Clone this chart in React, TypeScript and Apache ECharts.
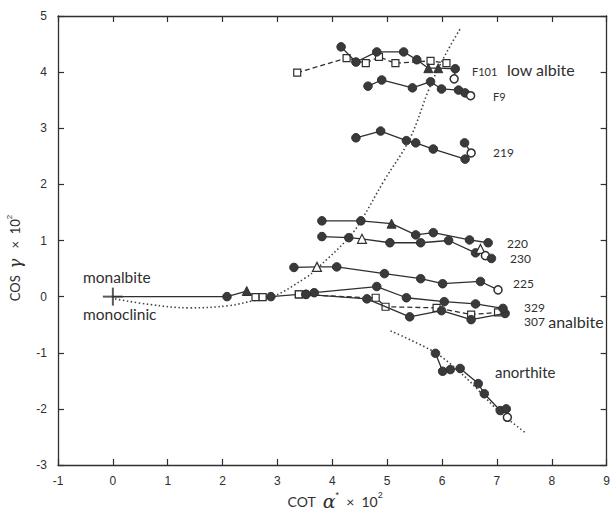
import React, { useEffect, useRef } from 'react';
import * as echarts from 'echarts';

type Pt = [number, number, string];

// kinds: d = filled dot, s = open square, t = filled triangle, T = open triangle, o = open circle, '' = none
const monoLine: Pt[] = [[0, 0, ''], [2.08, 0, 'd'], [2.44, 0.1, 't'], [2.6, -0.01, 's'], [2.73, -0.01, 's'], [2.88, 0, 'd'], [3.39, 0.04, 's']];
const s307dash: Pt[] = [[3.39, 0.04, 's'], [4.63, -0.02, ''], [4.79, -0.02, 's'], [4.97, -0.18, 's'], [5.9, -0.2, 's'], [6.53, -0.32, 's'], [7.02, -0.28, 's']];
const s307: Pt[] = [[3.52, 0.04, 'd'], [4.63, -0.04, 'd'], [5.41, -0.36, 'd'], [5.99, -0.25, 'd'], [6.53, -0.41, 'd'], [7.15, -0.3, 'd']];
const s329: Pt[] = [[3.52, 0.04, 'd'], [3.67, 0.07, 'd'], [4.81, 0.18, 'd'], [5.35, -0.02, 'd'], [6.04, -0.09, 'd'], [6.61, -0.13, 'd'], [7.11, -0.21, 'd']];
const s225: Pt[] = [[3.3, 0.52, 'd'], [3.72, 0.53, 'T'], [4.08, 0.53, 'd'], [4.95, 0.41, 'd'], [5.61, 0.32, 'd'], [6.01, 0.23, 'd'], [6.7, 0.27, 'd'], [7.02, 0.12, 'o']];
const s230: Pt[] = [[3.81, 1.07, 'd'], [4.3, 1.05, 'd'], [4.54, 1.03, 'T'], [5.05, 0.96, 'd'], [5.61, 0.96, 'd'], [6.12, 1.0, 'd'], [6.61, 0.78, 'd'], [6.7, 0.85, 'T'], [6.79, 0.73, 'o'], [6.9, 0.68, 'd']];
const s220: Pt[] = [[3.81, 1.35, 'd'], [4.52, 1.35, 'd'], [5.08, 1.3, 't'], [5.52, 1.1, 'd'], [5.84, 1.14, 'd'], [6.5, 1.01, 'd'], [6.84, 0.96, 'd']];
const s219: Pt[] = [[4.43, 2.83, 'd'], [4.88, 2.95, 'd'], [5.35, 2.78, 'd'], [5.52, 2.74, 'd'], [5.84, 2.63, 'd'], [6.42, 2.45, 'd'], [6.53, 2.56, 'o'], [6.41, 2.74, 'd']];
const sF9: Pt[] = [[4.65, 3.75, 'd'], [4.9, 3.86, 'd'], [5.46, 3.72, 'd'], [5.79, 3.83, 'd'], [5.99, 3.7, 'd'], [6.3, 3.68, 'd'], [6.42, 3.63, 'd'], [6.52, 3.58, 'o']];
const sF101: Pt[] = [[4.16, 4.45, 'd'], [4.43, 4.18, 'd'], [4.81, 4.36, 'd'], [5.3, 4.36, 'd'], [5.54, 4.22, 'd'], [5.75, 4.07, 't'], [5.93, 4.07, 't'], [6.24, 4.06, 'd'], [6.22, 3.88, 'o']];
const sF101dash: Pt[] = [[3.36, 3.99, 's'], [4.26, 4.25, 's'], [4.61, 4.16, 's'], [4.85, 4.27, 's'], [5.15, 4.16, 's'], [5.79, 4.2, 's'], [6.08, 4.16, 's']];
const anorthite: Pt[] = [[5.88, -1.01, 'd'], [6.01, -1.33, 'd'], [6.15, -1.3, 'd'], [6.33, -1.28, 'd'], [6.66, -1.55, 'd'], [6.77, -1.73, 'd'], [7.06, -2.03, 'd'], [7.17, -2.0, 'd'], [7.19, -2.15, 'o']];

const anorthiteTrend: [number, number][] = [[5.06, -0.61], [5.88, -1.0], [6.42, -1.43], [7.02, -2.03], [7.51, -2.42]];
const orderCurve: [number, number][] = [
  [0.04, -0.04], [0.67, -0.14], [1.4, -0.2], [2.12, -0.16], [2.58, -0.07], [2.88, -0.02], [3.52, 0.34],
  [3.72, 0.5], [4.3, 1.05], [4.52, 1.35], [4.94, 2.06], [5.41, 2.81], [5.75, 3.67], [5.93, 4.06], [6.15, 4.47], [6.33, 4.77],
];

const INK = '#2f2f2f';

function item(p: Pt) {
  const k = p[2];
  const base: any = { value: [p[0], p[1]] };
  if (k === '') {
    base.symbol = 'none';
  } else if (k === 'd') {
    base.symbol = 'circle'; base.symbolSize = 8.5;
    base.itemStyle = { color: '#3a3a3a', borderColor: INK, borderWidth: 1 };
  } else if (k === 's') {
    base.symbol = 'rect'; base.symbolSize = 7;
    base.itemStyle = { color: '#fff', borderColor: INK, borderWidth: 1.2 };
  } else if (k === 'o') {
    base.symbol = 'circle'; base.symbolSize = 8;
    base.itemStyle = { color: '#fff', borderColor: INK, borderWidth: 1.5 };
  } else if (k === 't') {
    base.symbol = 'triangle'; base.symbolSize = 9;
    base.itemStyle = { color: '#3a3a3a', borderColor: INK, borderWidth: 1 };
  } else if (k === 'T') {
    base.symbol = 'triangle'; base.symbolSize = 9;
    base.itemStyle = { color: '#fff', borderColor: INK, borderWidth: 1.2 };
  }
  return base;
}

function lineSeries(pts: Pt[], dashed = false) {
  return {
    type: 'line',
    data: pts.map(item),
    showAllSymbol: true,
    lineStyle: { color: INK, width: 1.3, type: dashed ? [5, 3] : 'solid' },
    z: dashed ? 3 : 4,
    silent: true,
  };
}

const txt = (x: number, y: number, text: string, size: number) => ({
  type: 'text', x, y,
  style: { text, fill: INK, font: `${size}px Lato, "Noto Sans", sans-serif`, textVerticalAlign: 'middle' },
});

export default function App() {
  const ref = useRef<HTMLDivElement>(null);
  useEffect(() => {
    document.body.style.margin = '0';
    const chart = echarts.init(ref.current!, undefined, { renderer: 'svg' });
    const axisCommon = {
      min: -1, max: 9, interval: 1,
      axisLine: { show: true, onZero: false, lineStyle: { color: INK, width: 1.3 } },
      axisTick: { show: true, inside: true, length: 6, lineStyle: { color: INK, width: 1.2 } },
      splitLine: { show: false },
    };
    const yCommon = { ...axisCommon, min: -3, max: 5 };
    const labelStyle = { color: INK, fontSize: 12, fontFamily: '"Liberation Sans", Arial, sans-serif' };
    chart.setOption({
      animation: false,
      backgroundColor: '#fff',
      grid: { left: 58, right: 4, top: 16, bottom: 50 },
      xAxis: [
        { type: 'value', position: 'bottom', ...axisCommon, axisLabel: { ...labelStyle, margin: 10 } },
        { type: 'value', position: 'top', ...axisCommon, axisLabel: { show: false } },
      ],
      yAxis: [
        { type: 'value', position: 'left', ...yCommon, axisLabel: { ...labelStyle, margin: 11 } },
        { type: 'value', position: 'right', ...yCommon, axisLabel: { show: false } },
      ],
      series: [
        {
          type: 'line', data: orderCurve, smooth: 0.4, symbol: 'none', silent: true,
          lineStyle: { color: '#444', width: 1.6, type: [1.5, 2.5] }, z: 2,
        },
        {
          type: 'line', data: anorthiteTrend, smooth: 0.3, symbol: 'none', silent: true,
          lineStyle: { color: '#444', width: 1.6, type: [1.5, 2.5] }, z: 2,
        },
        lineSeries(monoLine),
        lineSeries(s307dash, true),
        lineSeries(s307),
        lineSeries(s329),
        lineSeries(s225),
        lineSeries(s230),
        lineSeries(s220),
        lineSeries(s219),
        lineSeries(sF9),
        lineSeries(sF101dash, true),
        lineSeries(sF101),
        lineSeries(anorthite),
        {
          type: 'scatter', silent: true, z: 5,
          data: [
            { value: [0, 0], symbol: 'rect', symbolSize: [2, 18] },
            { value: [0, 0], symbol: 'rect', symbolSize: [20, 2] },
          ],
          itemStyle: { color: INK },
        },
      ],
      graphic: [
        txt(472, 71, 'F101', 11),
        txt(507, 69, 'low albite', 16),
        txt(493, 96, 'F9', 11),
        txt(493, 152, '219', 12),
        txt(507, 243, '220', 12),
        txt(510, 258, '230', 12),
        txt(513, 283, '225', 12),
        txt(524, 307, '329', 12),
        {
          type: 'text', x: 524, y: 321,
          style: {
            text: '{n|307} {w|analbite}', textVerticalAlign: 'middle',
            rich: {
              n: { fontSize: 12, fill: INK, fontFamily: 'Lato, sans-serif' },
              w: { fontSize: 16, fill: INK, fontFamily: 'Lato, sans-serif' },
            },
          },
        },
        txt(495, 372, 'anorthite', 15),
        txt(83, 277, 'monalbite', 15.5),
        txt(83, 314, 'monoclinic', 15.5),
        {
          type: 'text', x: 335, y: 501,
          style: {
            text: '{a|COT  }{g|α}{s|*}{a|  ×  10}{s|2}', textAlign: 'center', textVerticalAlign: 'middle',
            rich: {
              a: { fontSize: 14, fill: INK, fontFamily: 'Lato, sans-serif', lineHeight: 22 },
              g: { fontSize: 19, fill: INK, fontStyle: 'italic', fontFamily: '"DejaVu Serif", serif', lineHeight: 22 },
              s: { fontSize: 9, fill: INK, verticalAlign: 'top', lineHeight: 10 },
            },
          },
        },
        {
          type: 'text', x: 15, y: 258, rotation: Math.PI / 2,
          style: {
            text: '{a|COS  }{g|γ}{a|   ×  10}{s|2}', textAlign: 'center', textVerticalAlign: 'middle',
            rich: {
              a: { fontSize: 13, fill: INK, fontFamily: 'Lato, sans-serif', lineHeight: 20 },
              g: { fontSize: 17, fill: INK, fontStyle: 'italic', fontFamily: '"DejaVu Serif", serif', lineHeight: 20 },
              s: { fontSize: 8, fill: INK, verticalAlign: 'top', lineHeight: 9 },
            },
          },
        },
      ],
    });
    return () => chart.dispose();
  }, []);
  return <div ref={ref} style={{ width: 613, height: 515 }} />;
}
